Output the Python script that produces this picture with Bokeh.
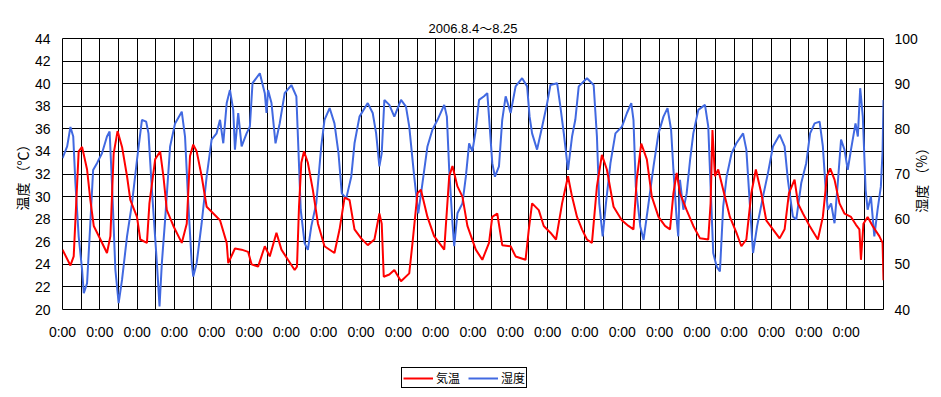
import math
from bokeh.plotting import figure
from bokeh.layouts import column
from bokeh.models import Range1d, LinearAxis, FixedTicker, Legend, LegendItem, Label
from bokeh.embed import file_html
from bokeh.resources import INLINE

title_text = "2006.8.4～8.25"
left_label = "温度 （℃）"
right_label = "湿度 （%）"
series_names = ["気温", "湿度"]
series_colors = ["#FF0000", "#4169E1"]
day_count = 22
tick_label = "0:00"

temp_hours = [0, 5.1, 7.2, 10.4, 12.6, 15.8, 17.9, 20.1, 24.4, 28.6, 30.8, 32.9, 35.4, 38.3, 41.5, 43.6,
              47.9, 50.0, 54.3, 55.9, 59.6, 62.8, 64.9, 67.1, 71.3, 76.7, 79.9, 82.0, 84.1, 86.3, 89.5,
              92.7, 97.0, 101.3, 105.6, 106.6, 110.9, 115.2, 119.4, 121.6, 125.8, 130.1, 133.3, 137.6,
              140.8, 145.0, 149.3, 150.8, 152.1, 153.6, 155.3, 157.8, 161.0, 164.3, 168.5, 174.9, 178.2,
              181.4, 184.6, 187.8, 192.1, 196.3, 200.6, 203.8, 205.3, 206.6, 210.2, 213.4, 217.7, 223.0,
              225.1, 228.3, 230.5, 234.7, 239.0, 245.5, 248.7, 250.8, 254.0, 257.2, 260.4, 265.8, 270.0,
              274.3, 276.4, 279.6, 282.8, 288.2, 291.4, 297.8, 299.9, 302.0, 306.3, 309.5, 313.8, 317.4,
              321.3, 325.1, 327.7, 330.9, 334.1, 337.3, 340.5, 343.7, 346.9, 350.1, 354.4, 359.7, 364.0,
              367.2, 369.3, 372.2, 375.8, 379.0, 383.3, 387.5, 390.7, 392.9, 395.0, 397.1, 401.4, 405.7,
              410.0, 415.3, 416.8, 418.0, 419.6, 421.7, 424.9, 429.2, 433.4, 436.6, 439.8, 443.0, 445.9,
              449.4, 452.6, 456.9, 461.2, 464.4, 467.2, 470.8, 473.0, 476.2, 480.5, 485.8, 489.0, 491.6,
              493.7, 496.5, 499.7, 502.9, 507.1, 510.3, 512.5, 513.5, 515.1, 517.8, 521.0, 525.3, 527.4, 528]
temp_values = [25.3, 23.9, 24.7, 34.0, 34.4, 32.4, 29.7, 27.4, 26.2, 25.0, 26.5, 33.8, 35.8, 34.4, 31.8, 29.7,
               28.2, 26.2, 25.9, 29.4, 33.3, 34.0, 31.8, 28.8, 27.4, 25.9, 27.6, 33.6, 34.6, 34.0, 31.8,
               29.1, 28.5, 27.9, 25.9, 24.1, 25.4, 25.3, 25.1, 24.0, 23.8, 25.6, 24.7, 26.8,
               25.3, 24.4, 23.5, 23.8, 29.1, 33.0, 34.0, 33.0, 30.6, 27.6, 25.6, 25.0, 27.1,
               29.9, 29.7, 27.1, 26.3, 25.7, 26.2, 28.5, 27.6, 22.9, 23.1, 23.5, 22.5, 23.2,
               25.9, 30.3, 30.6, 28.2, 26.5, 25.3, 31.8, 32.7, 30.9, 30.0, 27.4, 25.3, 24.4,
               25.9, 28.2, 28.5, 25.7, 25.6, 24.7, 24.4, 27.1, 29.4, 28.8, 27.4, 26.8, 26.2,
               29.4, 31.8, 30.0, 28.2, 27.1, 26.2, 25.9, 30.9, 33.7, 32.4, 29.1, 27.9, 27.4,
               27.1, 31.5, 34.7, 33.3, 30.0, 28.2, 27.4, 27.1, 30.3, 32.1, 30.3, 28.8, 27.4,
               26.3, 26.2, 29.4, 35.9, 31.8, 32.4, 30.6, 28.2, 26.8, 25.6, 26.2, 30.3, 32.4,
               30.3, 27.9, 27.1, 26.3, 27.1, 30.3, 31.5, 29.4, 28.5, 27.4, 26.2, 28.2, 31.8,
               32.5, 31.5, 29.4, 28.5, 28.2, 27.5, 27.1, 24.4, 27.6, 28.2, 27.4, 26.5, 25.9, 22.6]

hum_hours = [0, 3.0, 5.1, 6.9, 8.3, 10.4, 12.6, 13.7, 15.8, 17.9, 19.7, 22.2, 25.4, 28.6, 30.3, 31.9, 34.0,
             36.1, 38.3, 41.5, 44.7, 47.9, 51.1, 53.8, 55.3, 57.5, 60.7, 62.4, 63.9, 66.0, 69.2, 72.4,
             76.7, 78.8, 80.9, 83.1, 84.1, 86.3, 89.5, 92.7, 95.9, 99.1, 101.3, 103.4, 105.6, 107.7,
             109.8, 110.9, 113.0, 115.2, 118.4, 120.5, 122.2, 126.9, 130.1, 131.2, 132.2, 134.4, 137.0,
             139.7, 142.9, 147.2, 150.4, 151.4, 153.2, 155.7, 157.8, 160.0, 163.2, 166.4, 168.5, 171.8,
             174.9, 177.5, 179.6, 182.5, 185.7, 187.8, 191.0, 196.3, 199.5, 201.7, 203.8, 205.3, 207.0,
             210.2, 213.4, 217.7, 220.9, 223.0, 226.2, 228.8, 231.5, 234.7, 237.9, 241.2, 245.5, 247.2,
             248.7, 250.8, 251.9, 254.0, 257.2, 259.4, 261.5, 263.6, 265.8, 267.9, 271.1, 273.2, 274.3,
             276.4, 278.1, 280.7, 282.8, 285.0, 288.2, 291.4, 295.6, 298.8, 300.4, 302.0, 305.2, 308.5,
             311.7, 313.8, 318.1, 320.2, 322.4, 325.1, 327.7, 329.8, 332.0, 337.3, 341.6, 343.7, 345.2,
             347.4, 349.5, 352.4, 355.6, 359.8, 363.0, 365.8, 367.2, 368.7, 371.6, 373.7, 376.9, 380.1,
             383.3, 386.5, 389.1, 391.4, 392.9, 395.0, 396.0, 397.1, 399.3, 401.4, 403.6, 405.7, 408.9,
             413.2, 415.3, 416.8, 418.5, 420.7, 422.8, 424.9, 427.1, 430.3, 433.4, 437.7, 439.8, 442.0,
             444.1, 446.7, 450.5, 453.7, 456.9, 461.2, 464.4, 466.5, 469.7, 471.9, 475.1, 478.3, 480.8,
             483.7, 486.9, 489.0, 490.7, 492.2, 494.3, 496.5, 498.6, 500.7, 502.9, 505.0, 507.1, 510.0,
             511.5, 513.0, 514.7, 516.5, 517.8, 519.9, 522.1, 524.2, 526.3, 527.4, 528]
hum_values = [73.5, 76.1, 80.4, 78.3, 68.0, 56.2, 48.8, 43.6, 45.8, 59.1, 70.9, 72.4, 74.6, 78.3, 79.4, 67.2, 48.8,
              41.4, 46.6, 56.2, 63.5, 73.1, 82.0, 81.6, 79.0, 66.5, 50.3, 40.7, 50.3, 59.9, 76.1, 81.2,
              83.8, 78.3, 63.5, 50.3, 47.3, 50.3, 59.1, 69.4, 77.6, 79.0, 82.0, 76.8, 85.7, 88.6,
              84.2, 75.4, 83.5, 76.1, 79.0, 80.5, 90.1, 92.3, 87.9, 83.5, 88.6, 85.7, 76.8,
              81.2, 87.9, 89.7, 87.2, 78.3, 62.1, 54.7, 53.2, 58.4, 63.5, 76.1, 82.0, 84.6,
              81.2, 74.6, 65.7, 64.6, 69.4, 76.8, 82.7, 85.7, 83.5, 79.0, 71.7, 74.6, 86.4,
              85.3, 82.7, 86.4, 84.9, 80.5, 69.4, 61.3, 68.0, 76.1, 79.8, 82.0, 85.3, 82.7,
              70.9, 59.1, 54.0, 61.3, 63.5, 69.4, 76.8, 75.0, 79.8, 86.4, 87.2, 87.9, 82.7,
              72.4, 69.4, 71.7, 82.0, 87.2, 83.5, 89.4, 91.2, 89.4, 82.7, 79.0, 75.4, 80.5,
              85.7, 89.7, 90.1, 84.9, 79.0, 70.9, 78.3, 82.0, 89.4, 91.2, 89.7, 78.3, 63.5,
              56.2, 63.5, 72.4, 79.0, 80.5, 83.5, 85.7, 82.0, 67.2, 58.4, 55.4, 63.5, 71.7,
              79.0, 82.7, 84.6, 79.8, 70.9, 59.9, 56.2, 68.7, 62.1, 65.7, 73.1, 79.0, 84.2,
              85.3, 80.5, 67.2, 52.5, 49.5, 48.4, 62.8, 69.4, 74.6, 76.8, 79.0, 75.4, 63.5,
              52.5, 58.4, 65.0, 70.2, 76.1, 78.7, 76.1, 68.7, 60.6, 59.9, 68.0, 72.4, 79.0,
              81.2, 81.6, 76.1, 67.2, 62.1, 63.5, 59.1, 68.0, 77.6, 75.4, 70.9, 75.4, 81.2,
              78.3, 89.0, 82.7, 66.5, 62.1, 65.0, 56.2, 62.1, 67.2, 75.0, 86.4]

temp_ticks = list(range(20, 45, 2))
hum_ticks = list(range(40, 101, 10))
day_ticks = [d * 24 for d in range(day_count)]
half_day_grid = [h * 12 for h in range(day_count * 2 + 1)]

LATIN = "'Liberation Sans', 'Noto Sans CJK JP'"
CJK = "'Noto Sans CJK JP'"

x_end = day_count * 24
p = figure(width=940, height=355, output_backend="svg", toolbar_location=None,
           x_range=Range1d(0, x_end), y_range=Range1d(temp_ticks[0], temp_ticks[-1]),
           min_border_left=62, min_border_right=54, min_border_top=38, min_border_bottom=46,
           background_fill_color="white", border_fill_color="white")
p.extra_y_ranges = {"hum": Range1d(hum_ticks[0], hum_ticks[-1])}

p.title.text = title_text
p.title.align = "center"
p.title.text_font = LATIN
p.title.text_font_size = "13px"
p.title.text_font_style = "normal"
p.title.text_color = "black"
p.title.standoff = 5

p.outline_line_color = "black"
p.outline_line_width = 1
p.outline_line_alpha = 1

p.xgrid.ticker = FixedTicker(ticks=half_day_grid)
p.ygrid.ticker = FixedTicker(ticks=temp_ticks)
for g in (p.xgrid, p.ygrid):
    g.grid_line_color = "black"
    g.grid_line_width = 1
    g.grid_line_alpha = 1

def style_axis(ax, standoff):
    ax.major_tick_out = 0
    ax.major_tick_in = 0
    ax.minor_tick_out = 0
    ax.minor_tick_in = 0
    ax.axis_line_color = None
    ax.major_label_standoff = standoff
    ax.major_label_text_font = LATIN
    ax.major_label_text_font_size = "14px"
    ax.major_label_text_color = "black"
    ax.axis_label_text_font = CJK
    ax.axis_label_text_font_size = "14px"
    ax.axis_label_text_font_style = "normal"
    ax.axis_label_text_color = "black"

xa = p.xaxis[0]
xa.ticker = FixedTicker(ticks=day_ticks)
xa.major_label_overrides = {t: tick_label for t in day_ticks}
style_axis(xa, 14)

ya = p.yaxis[0]
ya.ticker = FixedTicker(ticks=temp_ticks)
style_axis(ya, 12)
ya.axis_label = left_label
ya.axis_label_standoff = 0

ra = LinearAxis(y_range_name="hum", ticker=FixedTicker(ticks=hum_ticks))
style_axis(ra, 11)
p.add_layout(ra, "right")

# right-hand axis title, reading bottom-to-top like the left one
rlab = Label(x=x_end + 24.0, y=(temp_ticks[0] + temp_ticks[-1]) / 2 - 0.25, x_units="data", y_units="data",
             text=right_label, angle=90, angle_units="deg", text_align="center", text_baseline="middle",
             text_font=CJK, text_font_size="14px", text_color="black", text_line_height=0.5)
p.add_layout(rlab, "right")

r_hum = p.line(hum_hours, hum_values, line_color=series_colors[1], line_width=2, y_range_name="hum")
r_temp = p.line(temp_hours, temp_values, line_color=series_colors[0], line_width=2)

# legend strip below the chart; its key lines reuse the series but lie outside this strip's ranges
pl = figure(width=940, height=41, output_backend="svg", toolbar_location=None,
            x_range=Range1d(0, 1), y_range=Range1d(0, 1), x_axis_type=None, y_axis_type=None,
            min_border_left=0, min_border_right=0, min_border_top=0, min_border_bottom=0,
            background_fill_color="white", border_fill_color="white", outline_line_color=None)
pl.xgrid.visible = False
pl.ygrid.visible = False
k_temp = pl.line(temp_hours, temp_values, line_color=series_colors[0], line_width=2)
k_hum = pl.line(hum_hours, hum_values, line_color=series_colors[1], line_width=2)

legend = Legend(items=[LegendItem(label=series_names[0], renderers=[k_temp]),
                       LegendItem(label=series_names[1], renderers=[k_hum])],
                location=(339, 8), orientation="horizontal")
legend.border_line_color = "black"
legend.border_line_width = 1
legend.border_line_alpha = 1
legend.background_fill_color = "white"
legend.background_fill_alpha = 1
legend.padding = 1
legend.margin = 0
legend.spacing = 8
legend.label_standoff = 3
legend.glyph_width = 30
legend.glyph_height = 12
legend.label_height = 12
legend.label_text_font = CJK
legend.label_text_font_size = "12px"
legend.label_text_color = "black"
pl.add_layout(legend, "center")

layout = column(p, pl, spacing=0)
open("out.html", "w").write(file_html(layout, INLINE))
